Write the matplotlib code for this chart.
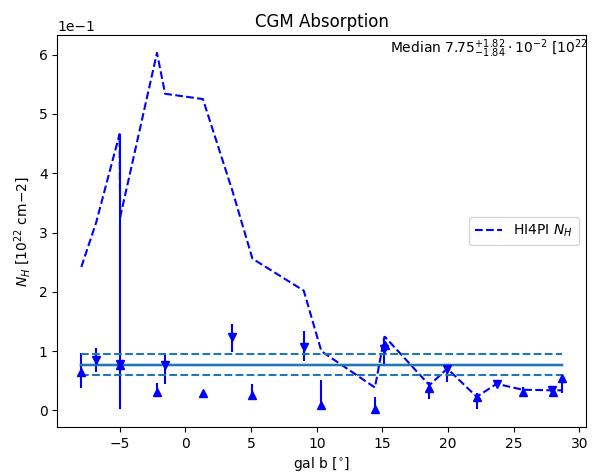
import matplotlib
matplotlib.use("Agg")
import matplotlib.pyplot as plt
import numpy as np

# galactic latitude of each sight line [deg]
gal_b = [-7.93, -6.80, -5.02, -4.97, -2.17, -1.55, 1.33, 3.58, 5.10, 9.01, 10.35,
         14.43, 15.15, 15.20, 18.58, 19.94, 22.18, 23.70, 25.68, 27.94, 27.98, 28.65]
# fitted N_H and its range, in units of 1e21 cm^-2 (scaled below)
nh = [0.656, 0.858, 0.79, 0.76, 0.31, 0.76, 0.30, 1.24, 0.26, 1.07, 0.09,
      0.02, 1.03, 1.11, 0.387, 0.695, 0.23, 0.44, 0.31, 0.35, 0.32, 0.55]
nh_lo = [0.387, 0.65, 0.017, 0.76, 0.31, 0.45, 0.30, 0.99, 0.26, 0.83, 0.09,
         0.02, 0.79, 1.11, 0.19, 0.48, 0.03, 0.42, 0.23, 0.29, 0.32, 0.30]
nh_hi = [0.969, 1.06, 4.66, 0.76, 0.46, 0.96, 0.30, 1.46, 0.45, 1.34, 0.52,
         0.23, 1.18, 1.11, 0.48, 0.76, 0.30, 0.46, 0.39, 0.37, 0.32, 0.58]
marks = ['^', 'v', 'v', '^', '^', 'v', '^', 'v', '^', 'v', '^',
         '^', 'v', '^', '^', 'v', '^', 'v', '^', 'v', '^', '^']
# HI4PI column density along the same sight lines
hi4pi = [2.42, 3.17, 4.66, 3.26, 6.03, 5.34, 5.25, 3.70, 2.56, 2.02, 1.00,
         0.387, 1.24, 1.24, 0.426, 0.707, 0.23, 0.45, 0.35, 0.34, 0.34, 0.34]

med, med_up, med_dn = 7.75e-2, 1.82e-2, 1.84e-2

scale = 1e-1
x = np.array(gal_b)
y = np.array(nh) * scale
ylo = np.array(nh_lo) * scale
yhi = np.array(nh_hi) * scale
hi = np.array(hi4pi) * scale
mk = np.array(marks)

fig, ax = plt.subplots(figsize=(5.97, 4.73), dpi=100)
fig.subplots_adjust(left=0.096, right=0.981, top=0.926, bottom=0.0966)

ax.plot(x, hi, 'b--', label='HI4PI $N_H$')

for m in ['^', 'v']:
    sel = mk == m
    err = [y[sel] - ylo[sel], yhi[sel] - y[sel]]
    ax.errorbar(x[sel], y[sel], yerr=err, fmt=m, color='b', ms=6)

xr = [x.min(), x.max()]
ax.plot(xr, [med, med], color='C0', lw=3, alpha=0.25)
ax.plot(xr, [med, med], color='C0')
ax.plot(xr, [med + med_up] * 2, '--', color='C0')
ax.plot(xr, [med - med_dn] * 2, '--', color='C0')

ax.text(0.63, 0.965,
        r'Median $7.75^{+1.82}_{-1.84}\cdot10^{-2}$ [$10^{22}$ cm$^{-2}$]',
        transform=ax.transAxes, ha='left', va='center', fontsize=10, clip_on=True)

ax.ticklabel_format(axis='y', style='sci', scilimits=(0, 0))
ax.set_title('CGM Absorption')
ax.set_xlabel(r'gal b [$^{\circ}$]', labelpad=2.5)
ax.set_ylabel(r'$N_H$ [$10^{22}$ cm$-2$]')
ax.legend(loc='center right')

fig.savefig('out.png', dpi=100)
